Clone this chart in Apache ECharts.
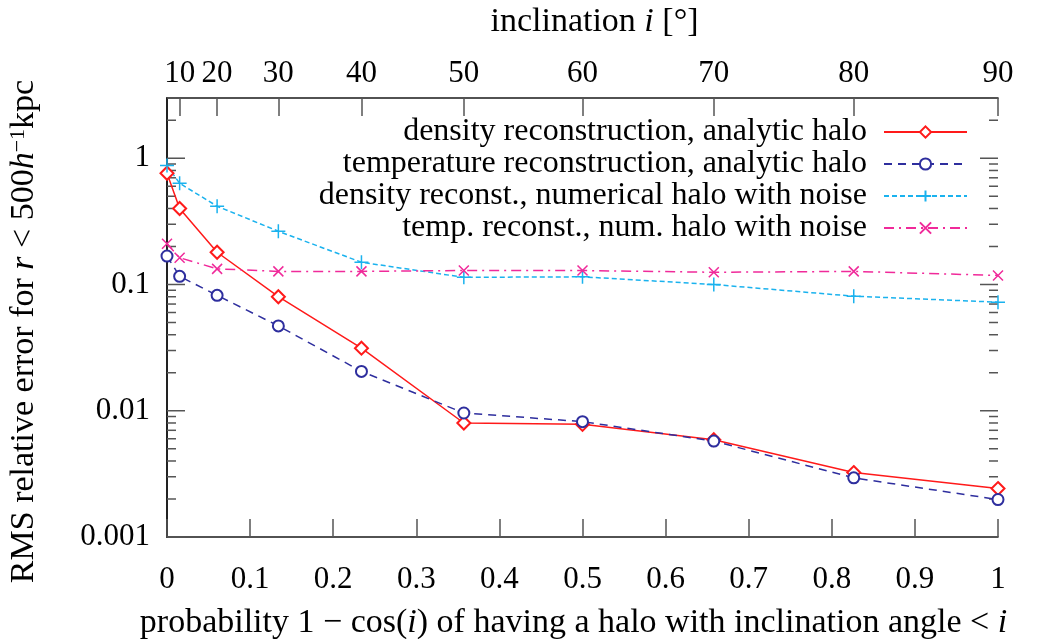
<!DOCTYPE html>
<html>
<head>
<meta charset="utf-8">
<script src="https://cdn.jsdelivr.net/npm/echarts@6/dist/echarts.min.js"></script>
<style>html,body{margin:0;padding:0;background:#fff;}#c{width:1039px;height:639px;}</style>
</head>
<body>
<div id="c"></div>
<script>
// x positions: probability 1 - cos(i)
const xProb = [0, 0.0152, 0.0603, 0.134, 0.234, 0.3572, 0.5, 0.658, 0.8264, 1];
const densAnalytic = [0.76, 0.40, 0.18, 0.080, 0.0313, 0.0080, 0.0078, 0.0059, 0.00324, 0.00242];
const tempAnalytic = [0.168, 0.116, 0.082, 0.047, 0.0205, 0.0096, 0.0082, 0.00575, 0.00294, 0.00198];
const densNoise = [0.875, 0.633, 0.417, 0.264, 0.150, 0.114, 0.115, 0.100, 0.0808, 0.0724];
const tempNoise = [0.21, 0.163, 0.133, 0.127, 0.127, 0.129, 0.129, 0.125, 0.127, 0.118];
// top axis: inclination labels and their positions
const inclLabels = ['10', '20', '30', '40', '50', '60', '70', '80', '90'];
const inclPos = [0.0152, 0.0603, 0.134, 0.234, 0.3572, 0.5, 0.658, 0.8264, 1];
// log-axis ticks
const majorTicks = [0.001, 0.01, 0.1, 1];
const minorTicks = [0.002,0.003,0.004,0.005,0.006,0.007,0.008,0.009,
  0.02,0.03,0.04,0.05,0.06,0.07,0.08,0.09,
  0.2,0.3,0.4,0.5,0.6,0.7,0.8,0.9, 2, 3];
const seriesNames = ['density reconstruction, analytic halo',
  'temperature reconstruction, analytic halo',
  'density reconst., numerical halo with noise',
  'temp. reconst., num. halo with noise'];

const FF = '"Liberation Serif", "Times New Roman", serif';
const FS = 31;   // tick labels
const LS = 32;   // legend
const NS = 34;   // axis names
const pair = arr => arr.map((v, k) => [xProb[k], v]);
const richName = {
  i: {fontFamily: FF, fontSize: NS, fontStyle: 'italic', color: '#000'},
  s: {fontFamily: FF, fontSize: 22, color: '#000', verticalAlign: 'top', padding: [0, 0, 13, 0]}
};
const axisLineStyle = {color: '#1a1a1a', width: 1.6};
const tickStyle = {color: '#555', width: 1.5};

function tickSeries(name, values, len) {
  return {
    name: name, type: 'custom', silent: true, clip: false, z: 3,
    data: values.map(v => [0, v]),
    renderItem: (params, api) => {
      const v = api.value(1);
      const l = api.coord([0, v]);
      const r = api.coord([1, v]);
      const st = {stroke: '#555', lineWidth: 1.5};
      return {type: 'group', children: [
        {type: 'line', shape: {x1: l[0], y1: l[1], x2: l[0] + len, y2: l[1]}, style: st},
        {type: 'line', shape: {x1: r[0] - len, y1: r[1], x2: r[0], y2: r[1]}, style: st}
      ]};
    }
  };
}

const chart = echarts.init(document.getElementById('c'));
chart.setOption({
  backgroundColor: '#fff',
  animation: false,
  grid: {left: 167, right: 41, top: 98, bottom: 102, containLabel: false, outerBoundsMode: 'none'},
  legend: {
    orient: 'vertical', right: 66, top: 111, align: 'right',
    itemWidth: 83, itemHeight: 14, itemGap: 0,
    data: seriesNames,
    textStyle: {fontFamily: FF, fontSize: LS, lineHeight: 32, color: '#000', padding: [0, 12, 0, 0]}
  },
  xAxis: [{
    type: 'value', min: 0, max: 1, interval: 0.1, position: 'bottom',
    name: 'probability 1 − cos({i|i}) of having a halo with inclination angle < {i|i}',
    nameLocation: 'middle', nameGap: 69,
    nameTextStyle: {fontFamily: FF, fontSize: NS, color: '#000', rich: richName, padding: [0, 18, 0, 0]},
    axisLine: {show: true, lineStyle: axisLineStyle},
    axisTick: {show: true, inside: true, length: 18, lineStyle: tickStyle},
    axisLabel: {fontFamily: FF, fontSize: FS, color: '#000', margin: 27},
    splitLine: {show: false}
  }, {
    type: 'value', min: 0, max: 1, position: 'top',
    name: 'inclination {i|i} [°]',
    nameLocation: 'middle', nameGap: 59,
    nameTextStyle: {fontFamily: FF, fontSize: NS, color: '#000', rich: richName, padding: [0, 0, 0, 24]},
    axisLine: {show: true, lineStyle: axisLineStyle},
    axisTick: {show: true, inside: true, length: 18, lineStyle: tickStyle, customValues: inclPos},
    axisLabel: {fontFamily: FF, fontSize: FS, color: '#000', margin: 9, customValues: inclPos,
      formatter: v => { const k = inclPos.findIndex(p => Math.abs(p - v) < 1e-6); return k >= 0 ? inclLabels[k] : ''; }},
    splitLine: {show: false}
  }],
  yAxis: [{
    type: 'log', logBase: 10, min: 0.001, max: 3, position: 'left',
    name: 'RMS relative error for {i|r} < 500{i|h}{s|−1}kpc',
    nameLocation: 'middle', nameGap: 125, nameRotate: 90,
    nameTextStyle: {fontFamily: FF, fontSize: NS, color: '#000', rich: richName, padding: [0, 28, 0, 0]},
    axisLine: {show: true, lineStyle: axisLineStyle},
    axisTick: {show: false},
    axisLabel: {fontFamily: FF, fontSize: FS, color: '#000', margin: 17, showMaxLabel: false,
      formatter: v => { const e = Math.log10(v); return Math.abs(e - Math.round(e)) < 1e-6 ? String(v) : ''; }},
    splitLine: {show: false}
  }, {
    type: 'log', logBase: 10, min: 0.001, max: 3, position: 'right',
    axisLine: {show: true, lineStyle: axisLineStyle},
    axisTick: {show: false},
    axisLabel: {show: false},
    splitLine: {show: false}
  }],
  series: [{
    name: seriesNames[0], type: 'line', data: pair(densAnalytic),
    symbol: 'emptyDiamond', symbolSize: 13,
    lineStyle: {color: '#ff1a1a', width: 1.5, type: 'solid'},
    itemStyle: {color: '#ff1a1a', borderColor: '#ff1a1a', borderWidth: 1.5}
  }, {
    name: seriesNames[1], type: 'line', data: pair(tempAnalytic),
    symbol: 'emptyCircle', symbolSize: 11,
    lineStyle: {color: '#2e2e9e', width: 1.5, type: [8, 6]},
    itemStyle: {color: '#2e2e9e', borderColor: '#2e2e9e', borderWidth: 1.5}
  }, {
    name: seriesNames[2], type: 'line', data: pair(densNoise),
    symbol: 'path://M0,5L10,5M5,0L5,10', symbolSize: 14,
    lineStyle: {color: '#1ab2ee', width: 1.5, type: [5, 3]},
    itemStyle: {color: 'transparent', borderColor: '#1ab2ee', borderWidth: 1.5}
  }, {
    name: seriesNames[3], type: 'line', data: pair(tempNoise),
    symbol: 'path://M0,0L10,10M10,0L0,10', symbolSize: 10,
    lineStyle: {color: '#f02a9a', width: 1.5, type: [10, 5, 2, 5]},
    itemStyle: {color: 'transparent', borderColor: '#f02a9a', borderWidth: 1.5}
  },
  tickSeries('majorTicks', majorTicks, 18),
  tickSeries('minorTicks', minorTicks, 9)]
});
</script>
</body>
</html>
